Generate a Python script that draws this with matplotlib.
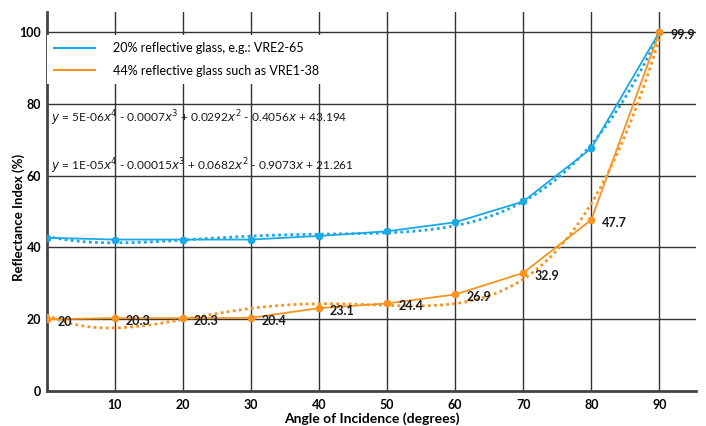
import numpy as np
import matplotlib
matplotlib.use('Agg')
import matplotlib.pyplot as plt

plt.rcParams['font.family'] = ['Lato', 'DejaVu Sans']

angles = [0, 10, 20, 30, 40, 50, 60, 70, 80, 90]
glass_20 = [42.7, 42.2, 42.2, 42.2, 43.2, 44.5, 47.0, 52.8, 67.6, 100.0]
glass_44 = [20.0, 20.3, 20.3, 20.4, 23.1, 24.4, 26.9, 32.9, 47.7, 99.9]
labels_44 = ["20", "20.3", "20.3", "20.4", "23.1", "24.4", "26.9", "32.9", "47.7", "99.9"]

name_20 = "20% reflective glass, e.g.: VRE2-65"
name_44 = "44% reflective glass such as VRE1-38"
eq_20 = r"$y$ = 5E-06$x^4$ - 0.0007$x^3$ + 0.0292$x^2$ - 0.4056$x$ + 43.194"
eq_44 = r"$y$ = 1E-05$x^4$ - 0.00015$x^3$ + 0.0682$x^2$ - 0.9073$x$ + 21.261"

blue = '#1ba8e6'
orange = '#f7931e'

fig = plt.figure(figsize=(7.06, 4.26), dpi=100)
ax = fig.add_axes([0.066, 0.082, 0.92, 0.89])

# 4th order trendlines, as the spreadsheet draws them
xs = np.linspace(0, 90, 200)
fit_20 = np.polyval(np.polyfit(angles, glass_20, 4), xs)
fit_44 = np.polyval(np.polyfit(angles, glass_44, 4), xs)

ax.plot(xs, fit_20, color=blue, lw=2, ls=(0, (1, 1.2)), zorder=3)
ax.plot(xs, fit_44, color=orange, lw=2, ls=(0, (1, 1.2)), zorder=3)
ax.plot(angles, glass_20, color=blue, lw=1.3, marker='o', ms=4.5, label=name_20, zorder=4)
ax.plot(angles, glass_44, color=orange, lw=1.3, marker='o', ms=4.5, label=name_44, zorder=4)

for x, y, s in zip(angles, glass_44, labels_44):
    ax.annotate(s, (x, y), xytext=(8, -2), textcoords='offset points',
                ha='left', va='center', fontsize=9, fontweight='bold', color='#1a1a1a', zorder=5)

ax.set_xlim(0, 95.4)
ax.set_ylim(0, 105.6)
ax.set_xticks(range(10, 100, 10))
ax.set_yticks(range(0, 120, 20))
ax.grid(True, color='#333333', lw=1)
ax.set_axisbelow(True)
ax.tick_params(length=0, labelsize=9)
ax.tick_params(axis='x', pad=6)
ax.tick_params(axis='y', pad=4)
for lab in ax.get_xticklabels() + ax.get_yticklabels():
    lab.set_fontweight('bold')
for side in ['top', 'right']:
    ax.spines[side].set_visible(False)
for side in ['left', 'bottom']:
    ax.spines[side].set_color('#444444')
    ax.spines[side].set_linewidth(2)

ax.set_xlabel("Angle of Incidence (degrees)", fontsize=10, fontweight='bold', labelpad=1)
ax.set_ylabel("Reflectance Index (%)", fontsize=9.5, fontweight='bold')
ax.yaxis.set_label_coords(-0.034, 0.458)

leg = ax.legend(loc='upper left', bbox_to_anchor=(0.0, 0.94), frameon=True, fontsize=9,
                handlelength=3.3, handletextpad=1.4, labelspacing=0.85, borderpad=0.6,
                borderaxespad=0.0)
leg.get_frame().set_facecolor('white')
leg.get_frame().set_edgecolor('none')
leg.get_frame().set_alpha(1)
leg.get_frame().set_boxstyle('square', pad=0)
leg.set_zorder(6)
for line in leg.get_lines():
    line.set_marker('')
    line.set_linewidth(1.5)

ax.text(0.6, 76.0, eq_20, fontsize=8.6, color='#1a1a1a', va='center', zorder=5)
ax.text(0.6, 62.7, eq_44, fontsize=8.6, color='#1a1a1a', va='center', zorder=5)

fig.savefig('out.png', dpi=100)
